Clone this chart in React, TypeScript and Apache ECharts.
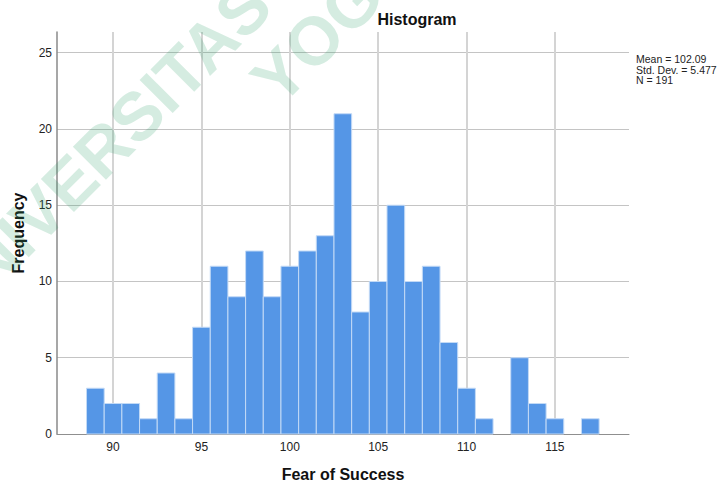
import React, { useEffect, useRef } from "react";
import * as echarts from "echarts";

// ---- data ----
const binCenters: number[] = [89, 90, 91, 92, 93, 94, 95, 96, 97, 98, 99, 100, 101, 102, 103, 104, 105, 106, 107, 108, 109, 110, 111, 112, 113, 114, 115, 116, 117];
const frequencies: number[] = [3, 2, 2, 1, 4, 1, 7, 11, 9, 12, 9, 11, 12, 13, 21, 8, 10, 15, 10, 11, 6, 3, 1, 0, 5, 2, 1, 0, 1];
const binWidth = 1;
const statLines: string[] = ["Mean = 102.09", "Std. Dev. = 5.477", "N = 191"];
const chartTitle = "Histogram";
const xAxisName = "Fear of Success";
const yAxisName = "Frequency";
const watermarkLines: string[] = ["UNIVERSITAS", "YOGYAKARTA"];

const FONT = "'Liberation Sans', Arial, Helvetica, sans-serif";

export default function App() {
  const ref = useRef<HTMLDivElement>(null);

  useEffect(() => {
    if (!ref.current) return;
    const chart = echarts.init(ref.current, null, { renderer: "svg" });
    const data = binCenters.map((c, i) => [c, frequencies[i]]);
    const rot = (45 * Math.PI) / 180;
    const wmFill = "rgba(40,160,100,0.195)";
    const wmFont = `bold 68px ${FONT}`;

    chart.setOption({
      animation: false,
      backgroundColor: "#ffffff",
      textStyle: { fontFamily: FONT },
      grid: {
        left: 57,
        top: 32,
        width: 572,
        height: 402,
        containLabel: false,
        outerBoundsMode: "none",
      },
      xAxis: {
        type: "value",
        min: 86.83,
        max: 119.19,
        splitNumber: 6,
        name: xAxisName,
        nameLocation: "middle",
        nameGap: 32,
        nameTextStyle: { fontFamily: FONT, fontSize: 16, fontWeight: "bold", color: "#111" },
        axisLine: { show: true, lineStyle: { color: "#8f8f8f", width: 1 } },
        axisTick: { show: false },
        axisLabel: {
          showMinLabel: false,
          showMaxLabel: false,
          margin: 7,
          fontFamily: FONT,
          fontSize: 12,
          color: "#222",
        },
        splitLine: {
          show: true,
          showMinLine: false,
          showMaxLine: false,
          lineStyle: { color: "#d4d4d4", width: 2 },
        },
      },
      yAxis: {
        type: "value",
        min: 0,
        max: 26.36,
        interval: 5,
        name: yAxisName,
        nameLocation: "middle",
        nameGap: 31,
        nameTextStyle: { fontFamily: FONT, fontSize: 16, fontWeight: "bold", color: "#111" },
        axisLine: { show: true, lineStyle: { color: "#8a8a8a", width: 1.5 } },
        axisTick: { show: false },
        axisLabel: {
          showMaxLabel: false,
          margin: 5,
          fontFamily: FONT,
          fontSize: 12,
          color: "#222",
        },
        splitLine: {
          show: true,
          showMaxLine: false,
          lineStyle: { color: "#c4c4c4", width: 1 },
        },
      },
      series: [
        {
          type: "custom",
          data,
          encode: { x: 0, y: 1 },
          renderItem: (params: any, api: any) => {
            const x = api.value(0);
            const y = api.value(1);
            if (!y) return null;
            const p0 = api.coord([x - binWidth / 2, y]);
            const p1 = api.coord([x + binWidth / 2, 0]);
            return {
              type: "rect",
              shape: { x: p0[0], y: p0[1], width: p1[0] - p0[0], height: p1[1] - p0[1] },
              style: { fill: "#5596e6", stroke: "#c3daf6", lineWidth: 1 },
            };
          },
        },
      ],
      graphic: [
        {
          type: "text",
          x: 417,
          y: 11,
          style: {
            text: chartTitle,
            font: `bold 16px ${FONT}`,
            fill: "#111",
            textAlign: "center",
            textVerticalAlign: "top",
          },
        },
        {
          type: "text",
          x: 636,
          y: 53.5,
          style: {
            text: statLines.join("\n"),
            font: `10.5px ${FONT}`,
            lineHeight: 10.7,
            fill: "#222",
            textAlign: "left",
            textVerticalAlign: "top",
          },
        },
        {
          type: "text",
          x: -61,
          y: 313,
          rotation: rot,
          z: 100,
          silent: true,
          style: {
            text: watermarkLines[0],
            font: wmFont,
            fill: wmFill,
            textAlign: "left",
            textVerticalAlign: "middle",
          },
        },
        {
          type: "text",
          x: 263,
          y: 91,
          rotation: rot,
          z: 100,
          silent: true,
          style: {
            text: watermarkLines[1],
            font: wmFont,
            fill: wmFill,
            textAlign: "left",
            textVerticalAlign: "middle",
          },
        },
      ],
    });

    return () => chart.dispose();
  }, []);

  return (
    <div
      ref={ref}
      style={{ position: "absolute", left: 0, top: 0, width: 718, height: 481 }}
    />
  );
}
